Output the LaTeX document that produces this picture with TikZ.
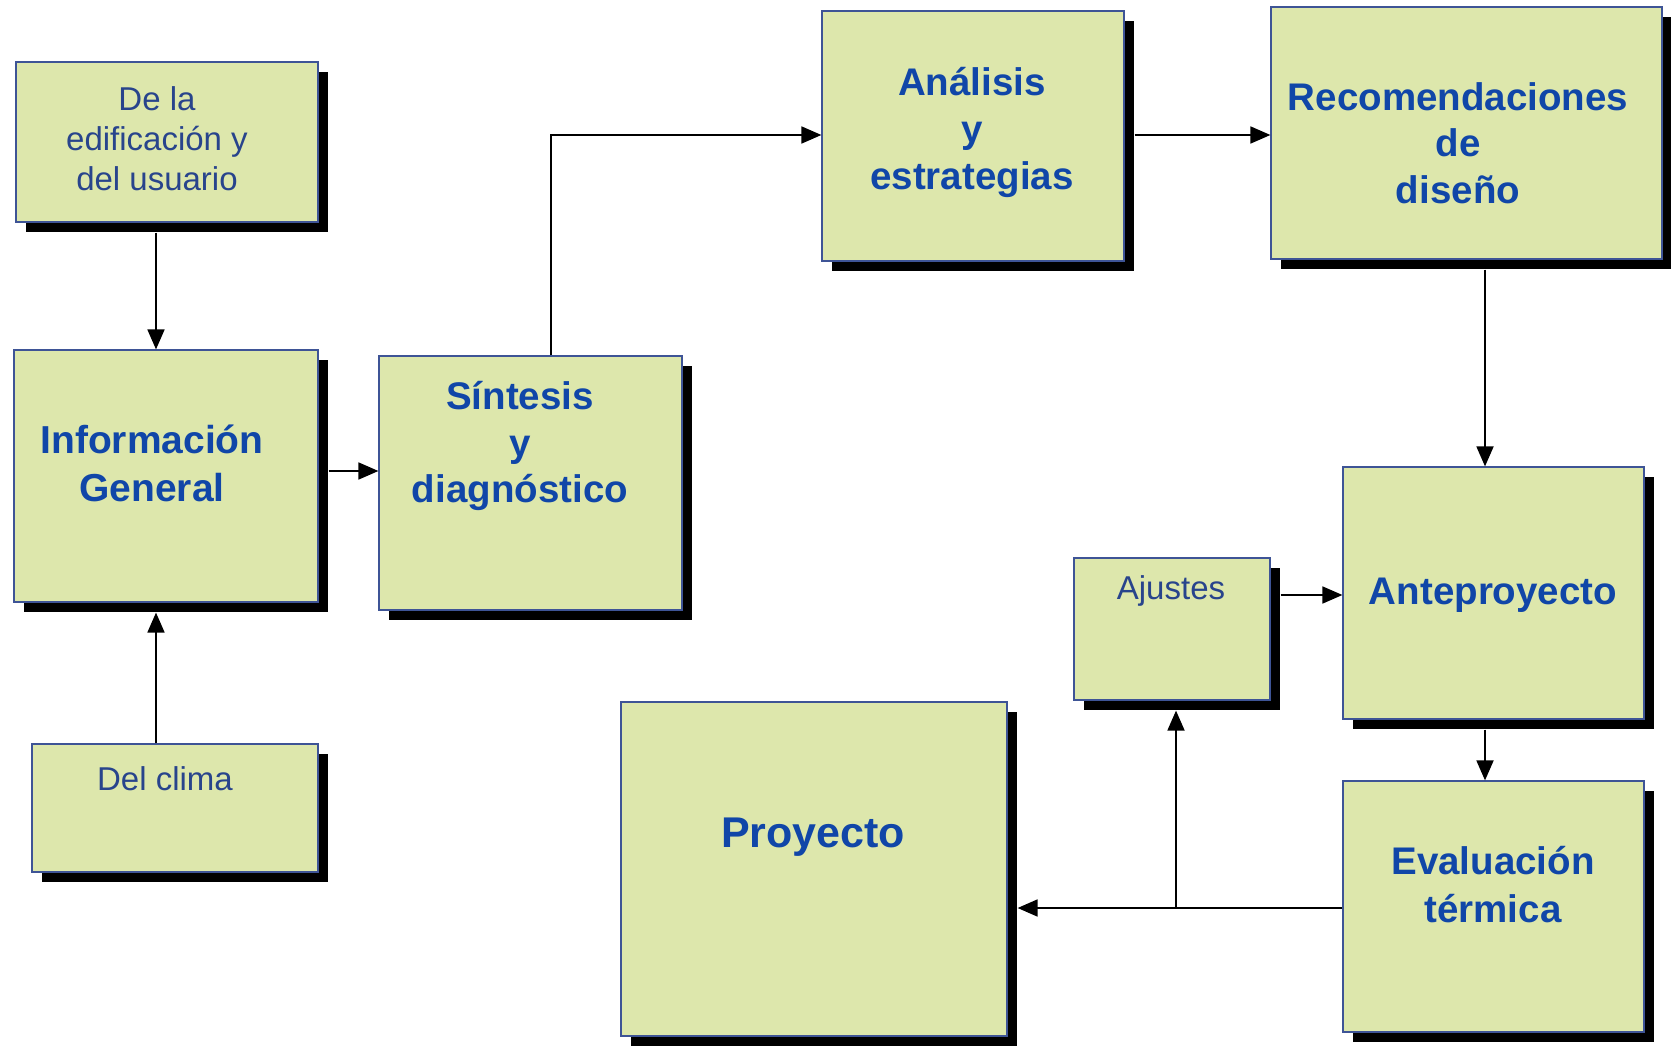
\documentclass[tikz,border=0pt]{standalone}
\usepackage{fontspec}
\setmainfont{Liberation Sans}
\usetikzlibrary{shadows,arrows.meta,calc}
\definecolor{boxfill}{RGB}{221,231,172}
\definecolor{boxline}{RGB}{62,84,150}
\definecolor{boldblue}{RGB}{16,70,168}
\definecolor{thinblue}{RGB}{40,68,140}
\begin{document}
\begin{tikzpicture}[x=1pt,y=-1pt,
  box/.style={draw=boxline, fill=boxfill, line width=1.2pt, inner sep=0pt,
    general shadow={fill=black, shadow xshift=10pt, shadow yshift=-10pt}},
  boldtxt/.style={text=boldblue, align=center, inner sep=0pt,
    font=\fontsize{38.5}{47}\selectfont\bfseries},
  thintxt/.style={text=thinblue, align=center, inner sep=0pt,
    font=\fontsize{33}{40}\selectfont},
  arr/.style={line width=1.8pt, -{Triangle[length=20pt,width=17pt]}}]
\useasboundingbox[fill=white] (0,0) rectangle (1671,1048);

% boxes
\node[box, minimum width=302pt, minimum height=160pt] (b1) at (167,142) {};
\node[box, minimum width=304pt, minimum height=252pt] (info) at (166,476) {};
\node[box, minimum width=286pt, minimum height=128pt] (clima) at (175,808) {};
\node[box, minimum width=303pt, minimum height=254pt] (sint) at (530.5,483) {};
\node[box, minimum width=302pt, minimum height=250pt] (anal) at (973,136) {};
\node[box, minimum width=391pt, minimum height=252pt] (rec) at (1466.5,133) {};
\node[box, minimum width=301pt, minimum height=252pt] (ante) at (1493.5,593) {};
\node[box, minimum width=196pt, minimum height=142pt] (ajus) at (1172,629) {};
\node[box, minimum width=301pt, minimum height=251pt] (eval) at (1493.5,906.5) {};
\node[box, minimum width=386pt, minimum height=334pt] (proy) at (814,869) {};

% texts
\node[thintxt] (tDe) at (157,139) {De la\\edificación y\\del usuario};
\node[boldtxt, font=\fontsize{39}{48}\selectfont\bfseries] (tInfo) at (152,463) {Información\\General};
\node[thintxt] (tClima) at (165,779) {Del clima};
\node[boldtxt, font=\fontsize{38.5}{46.4}\selectfont\bfseries] (tSint) at (520,446) {Síntesis\\y\\diagnóstico};
\node[boldtxt] (tAnal) at (972,132) {Análisis\\y\\estrategias};
\node[boldtxt, font=\fontsize{38.5}{46.4}\selectfont\bfseries] (tRec) at (1458,143) {Recomendaciones\\de\\diseño};
\node[boldtxt] (tAnte) at (1493,595) {Anteproyecto};
\node[thintxt] (tAjus) at (1171,591) {Ajustes};
\node[boldtxt, font=\fontsize{38.5}{48}\selectfont\bfseries] (tEval) at (1493,885) {Evaluación\\térmica};
\node[boldtxt, font=\fontsize{43}{50}\selectfont\bfseries] (tProy) at (813,837) {Proyecto};

% connectors
\draw[arr] ([xshift=-11pt,yshift=-10pt]b1.south) -- ([xshift=-10pt]info.north);
\draw[arr] ([xshift=-19pt]clima.north) -- ([xshift=-10pt,yshift=-10pt]info.south);
\draw[arr] ([xshift=10pt,yshift=5pt]info.east) -- ([yshift=12pt]sint.west);
\draw[arr] ([xshift=20.5pt]sint.north) |- ([yshift=1pt]anal.west);
\draw[arr] ([xshift=10pt,yshift=1pt]anal.east) -- ([yshift=-2pt]rec.west);
\draw[arr] ([xshift=18.5pt,yshift=-10pt]rec.south) -- ([xshift=-8.5pt]ante.north);
\draw[arr] ([xshift=10pt,yshift=34pt]ajus.east) -- ([yshift=-2pt]ante.west);
\draw[arr] ([xshift=-8.5pt,yshift=-10pt]ante.south) -- ([xshift=-8.5pt]eval.north);
\draw[arr] ([yshift=-1.5pt]eval.west) -- ([xshift=10pt,yshift=-39pt]proy.east);
\coordinate (j) at ($(ajus.south |- eval.west)+(4,1.5)$);
\draw[arr] (j) -- ([xshift=4pt,yshift=-10pt]ajus.south);
\end{tikzpicture}
\end{document}
